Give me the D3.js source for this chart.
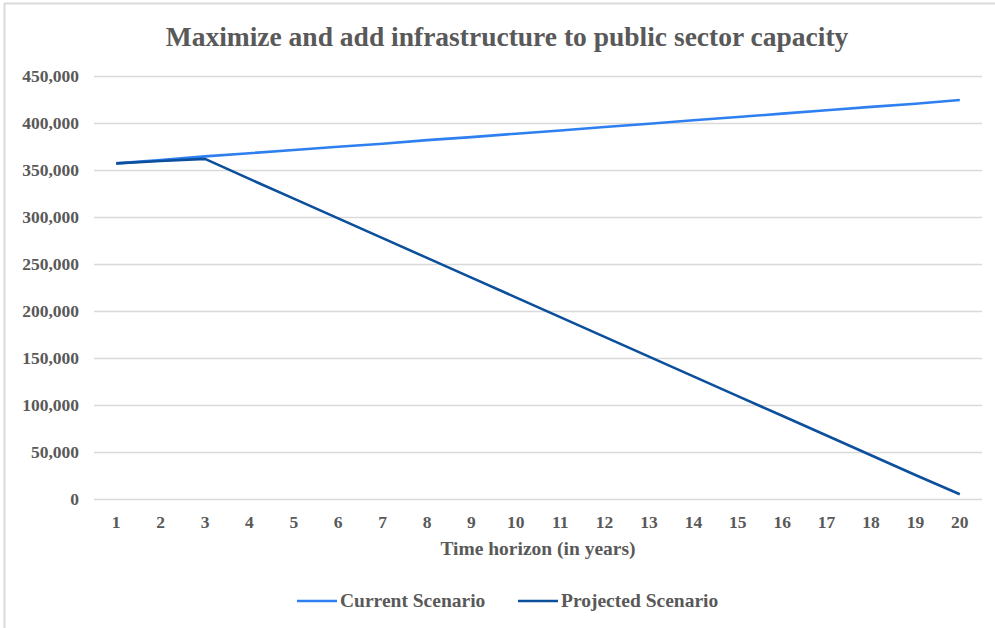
<!DOCTYPE html>
<html><head><meta charset="utf-8">
<script src="https://cdn.jsdelivr.net/npm/d3@7"></script>
<style>body{margin:0;background:#fff}svg{display:block}</style>
</head><body>
<script>
const years = [1,2,3,4,5,6,7,8,9,10,11,12,13,14,15,16,17,18,19,20];
const currentScenario = [357000,360500,364500,367800,371300,374700,378000,381800,385000,388600,392000,395800,399200,403000,406300,410000,413500,417200,420500,424500];
const projectedScenario = [357000,359500,361800,340500,319500,298500,277500,256500,235500,214500,193500,172500,151500,130500,109500,88500,67500,46500,25500,5000];
const yTicks = [0,50000,100000,150000,200000,250000,300000,350000,400000,450000];
const seriesNames = ["Current Scenario","Projected Scenario"];
const colors = ["#2e7ff0","#0c4f9c"];

const W=995,H=628;
const svg=d3.select("body").append("svg").attr("width",W).attr("height",H);
const font="'Liberation Serif','Times New Roman',serif";
const gray="#595959";

svg.append("line").attr("x1",4.5).attr("x2",4.5).attr("y1",3).attr("y2",H).attr("stroke","#d9d9d9").attr("stroke-width",2);
svg.append("line").attr("x1",4).attr("x2",W).attr("y1",3.5).attr("y2",3.5).attr("stroke","#d9d9d9").attr("stroke-width",2);

const x=d3.scaleBand().domain(years).range([94,982]);
const y=d3.scaleLinear().domain([0,450000]).range([499,76]);

const yAxis=d3.axisLeft(y).tickValues(yTicks).tickSize(-(982-94)).tickFormat(d3.format(","));
const gy=svg.append("g").attr("transform","translate(94,0)").call(yAxis);
gy.select(".domain").remove();
gy.selectAll(".tick line").attr("stroke","#d9d9d9").attr("stroke-width",1.5);
gy.selectAll(".tick text").attr("x",-15).attr("dy","0.34em").attr("fill",gray)
  .style("font-family",font).style("font-weight","bold").style("font-size","17.5px");

const xAxis=d3.axisBottom(x).tickSize(0);
const gx=svg.append("g").attr("transform","translate(0,499)").call(xAxis);
gx.select(".domain").remove();
gx.selectAll(".tick text").attr("dy","0").attr("y",29).attr("fill",gray)
  .style("font-family",font).style("font-weight","bold").style("font-size","17.5px");

const line=d3.line().x((d,i)=>x(years[i])+x.bandwidth()/2).y(d=>y(d));
[currentScenario,projectedScenario].forEach((s,k)=>{
  svg.append("path").datum(s).attr("d",line).attr("fill","none")
    .attr("stroke",colors[k]).attr("stroke-width",2.6).attr("stroke-linejoin","round");
});
svg.append("text").attr("x",507).attr("y",46).attr("text-anchor","middle").attr("fill",gray)
  .style("font-family",font).style("font-weight","bold").style("font-size","27.5px")
  .text("Maximize and add infrastructure to public sector capacity");
svg.append("text").attr("x",538).attr("y",555).attr("text-anchor","middle").attr("fill",gray)
  .style("font-family",font).style("font-weight","bold").style("font-size","19.5px")
  .text("Time horizon (in years)");

const leg=[{x:297,tx:340},{x:518,tx:561}];
seriesNames.forEach((n,k)=>{
  svg.append("line").attr("x1",leg[k].x).attr("x2",leg[k].x+40).attr("y1",601).attr("y2",601)
    .attr("stroke",colors[k]).attr("stroke-width",2.6);
  svg.append("text").attr("x",leg[k].tx).attr("y",607).attr("fill",gray)
    .style("font-family",font).style("font-weight","bold").style("font-size","19.5px").text(n);
});
</script>
</body></html>
